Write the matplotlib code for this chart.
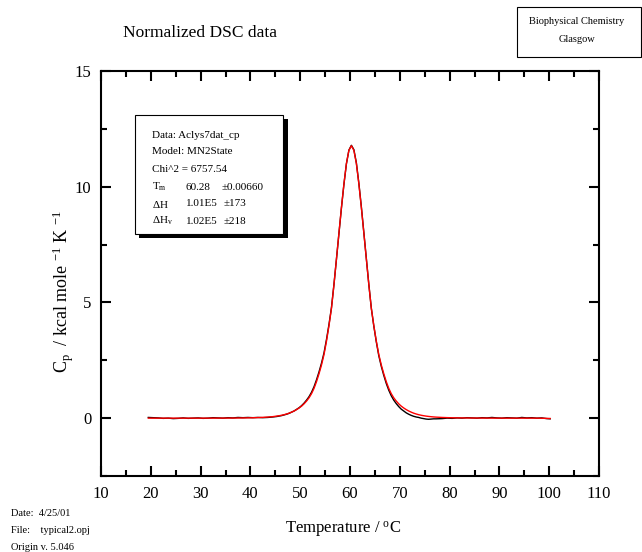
import matplotlib
matplotlib.use("Agg")
import matplotlib.pyplot as plt
from matplotlib.patches import Rectangle

plt.rcParams['font.family'] = ['Liberation Serif', 'DejaVu Serif']
plt.rcParams['mathtext.fontset'] = 'custom'
plt.rcParams['mathtext.rm'] = 'Liberation Serif'
plt.rcParams['mathtext.it'] = 'Liberation Serif:italic'
plt.rcParams['mathtext.bf'] = 'Liberation Serif:bold'

# ---- data ----
temp = [19.5, 20.5, 21.5, 22.5, 23.5, 24.5, 25.5, 26.5, 27.5, 28.5, 29.5, 30.5, 31.5,
        32.5, 33.5, 34.5, 35.5, 36.5, 37.5, 38.5, 39.5, 40.5, 41.5, 42.5, 43.5, 44.5,
        45.28, 45.78, 46.28, 46.78, 47.28, 47.78, 48.28, 48.78, 49.28, 49.78,
        50.28, 50.78, 51.28, 51.78, 52.28, 52.78, 53.28, 53.78, 54.28, 54.78,
        55.28, 55.78, 56.28, 56.78, 57.28, 57.78, 58.28, 58.78, 59.28, 59.78,
        60.28, 60.78, 61.28, 61.78, 62.28, 62.78, 63.28, 63.78, 64.28, 64.78,
        65.28, 65.78, 66.28, 66.78, 67.28, 67.78, 68.28, 68.78, 69.28, 69.78,
        70.28, 70.78, 71.28, 71.78, 72.28, 72.78, 73.28, 73.78, 74.28, 74.78,
        75.28, 75.78, 76.28, 76.78, 77.28,
        78.5, 79.5, 80.5, 81.5, 82.5, 83.5, 84.5, 85.5, 86.5, 87.5, 88.5, 89.5,
        90.5, 91.5, 92.5, 93.5, 94.5, 95.5, 96.5, 97.5, 98.5, 99.5, 100.2]

cp_data = [0.03, 0.02, 0.01, -0.01, 0.0, -0.02, -0.01, 0.01, -0.01, 0.0, 0.01, -0.01, 0.0,
           0.02, 0.01, 0.0, 0.02, 0.01, 0.03, 0.02, 0.03, 0.02, 0.03, 0.02, 0.03, 0.05,
           0.07, 0.09, 0.11, 0.14, 0.17, 0.21, 0.26, 0.31, 0.38, 0.45,
           0.54, 0.65, 0.78, 0.93, 1.12, 1.36, 1.66, 2.00, 2.38, 2.82,
           3.40, 4.05, 4.78, 5.78, 6.87, 7.98, 9.08, 10.10, 10.99, 11.58,
           11.79, 11.60, 11.03, 10.15, 9.13, 8.02, 6.90, 5.78, 4.75, 3.98,
           3.30, 2.70, 2.24, 1.85, 1.50, 1.21, 0.97, 0.78, 0.63, 0.50,
           0.39, 0.31, 0.23, 0.17, 0.12, 0.08, 0.05, 0.03, 0.00, -0.02,
           -0.04, -0.05, -0.04, -0.03, -0.03,
           -0.02, 0.0, -0.01, 0.01, 0.0, 0.02, 0.01, 0.0, 0.02, 0.01, 0.03, 0.01,
           0.0, 0.02, 0.01, 0.0, 0.03, 0.01, 0.02, 0.0, 0.01, -0.02, -0.03]

cp_fit = [0.0, 0.0, 0.0, 0.0, 0.0, 0.0, 0.0, 0.0, 0.0, 0.0, 0.0, 0.0, 0.0,
          0.001, 0.002, 0.002, 0.003, 0.004, 0.006, 0.009, 0.012, 0.017, 0.024, 0.034, 0.047, 0.065,
          0.088, 0.105, 0.125, 0.15, 0.18, 0.215, 0.26, 0.31, 0.37, 0.44,
          0.52, 0.62, 0.74, 0.88, 1.06, 1.29, 1.58, 1.92, 2.30, 2.75,
          3.33, 4.00, 4.75, 5.77, 6.88, 8.00, 9.10, 10.12, 11.00, 11.57,
          11.77, 11.57, 11.00, 10.12, 9.10, 8.00, 6.88, 5.77, 4.75, 4.00,
          3.33, 2.75, 2.30, 1.92, 1.58, 1.29, 1.06, 0.88, 0.74, 0.62,
          0.52, 0.44, 0.37, 0.31, 0.26, 0.215, 0.18, 0.15, 0.125, 0.105,
          0.088, 0.074, 0.062, 0.052, 0.044,
          0.03, 0.022, 0.016, 0.012, 0.009, 0.007, 0.005, 0.004, 0.003, 0.002, 0.001, 0.0,
          0.0, 0.0, 0.0, 0.0, 0.0, 0.0, 0.0, 0.0, -0.005, -0.01, -0.015]

x_ticks = [10, 20, 30, 40, 50, 60, 70, 80, 90, 100, 110]
y_ticks = [0, 5, 10, 15]

legend_lines = ["Data: Aclys7dat_cp", "Model: MN2State", "Chi^2 = 6757.54"]
param_names = [r"T$_{\mathrm{m}}$", r"$\Delta$H", r"$\Delta$H$_{\mathrm{v}}$"]
param_values = ["60.28", "1.01E5", "1.02E5"]
param_errors = ["\u00b10.00660", "\u00b1173", "\u00b1218"]

# ---- figure ----
W, H = 642, 552
fig = plt.figure(figsize=(W / 100, H / 100), dpi=100)
ax = fig.add_axes([101 / W, 1 - 476 / H, (599 - 101) / W, (476 - 71) / H])

ax.plot(temp, cp_data, color='black', lw=1.0, zorder=3)
ax.plot(temp, cp_fit, color='#ff0000', lw=1.0, zorder=4)

ax.set_xlim(10, 110)
ax.set_ylim(-2.5, 15)
ax.set_xticks(x_ticks)
ax.set_yticks(y_ticks)
ax.set_xticks([15, 25, 35, 45, 55, 65, 75, 85, 95, 105], minor=True)
ax.set_yticks([-2.5, 2.5, 7.5, 12.5], minor=True)
ax.tick_params(which='both', direction='in', top=True, right=True, width=1.5,
               labelsize=12, pad=7)
ax.tick_params(which='major', length=7)
ax.tick_params(which='minor', length=4)
for s in ax.spines.values():
    s.set_linewidth(1.5)

ax.set_xlabel(r"Temperature / $^{\mathrm{o}}$C", fontsize=12, labelpad=13)
ax.xaxis.label.set_x((343.5 - 101) / 498)
ax.set_ylabel(r"C$_{\mathrm{p}}$  / kcal mole $^{\mathrm{-1}}$ K $^{\mathrm{-1}}$",
              fontsize=13)
ax.yaxis.set_label_coords((76 - 101) / 498, (476 - 291) / 405)

# title
fig.text(200 / W, 1 - 33 / H, "Normalized DSC data", ha='center', va='center', fontsize=12.5)

# top-right box
fig.add_artist(Rectangle((517 / W, 1 - 57 / H), (641 - 517) / W, 50 / H,
                         transform=fig.transFigure, fill=False, lw=0.8, ec='black'))
fig.text(577 / W, 1 - 22 / H, "Biophysical Chemistry", ha='center', va='center', fontsize=7.5)
fig.text(577 / W, 1 - 40 / H, "Glasgow", ha='center', va='center', fontsize=7.5)

# bottom-left info
for i, t in enumerate(["Date:  4/25/01", "File:    typical2.opj", "Origin v. 5.046"]):
    fig.text(11 / W, 1 - (514 + 16.5 * i) / H, t, ha='left', va='center', fontsize=7.5)

# parameter box with shadow
fig.add_artist(Rectangle((139 / W, 1 - 238 / H), (288 - 139) / W, (238 - 119) / H,
                         transform=fig.transFigure, fc='black', ec='black', lw=0, zorder=5))
fig.add_artist(Rectangle((135 / W, 1 - 234 / H), (283 - 135) / W, (234 - 115) / H,
                         transform=fig.transFigure, fc='white', ec='black', lw=0.8, zorder=6))
ys = [135, 152, 169, 187, 204, 221]
for i, t in enumerate(legend_lines):
    fig.text(152 / W, 1 - ys[i] / H, t, ha='left', va='center', fontsize=8, zorder=7)
for j in range(3):
    y = 1 - ys[3 + j] / H
    fig.text(152 / W, y, param_names[j], ha='left', va='center', fontsize=8, zorder=7)
    fig.text(186 / W, y, param_values[j], ha='left', va='center', fontsize=8, zorder=7)
    ex = 222 if j == 0 else 224
    fig.text(ex / W, y, param_errors[j], ha='left', va='center', fontsize=8, zorder=7)

fig.savefig("out.png", dpi=100)
